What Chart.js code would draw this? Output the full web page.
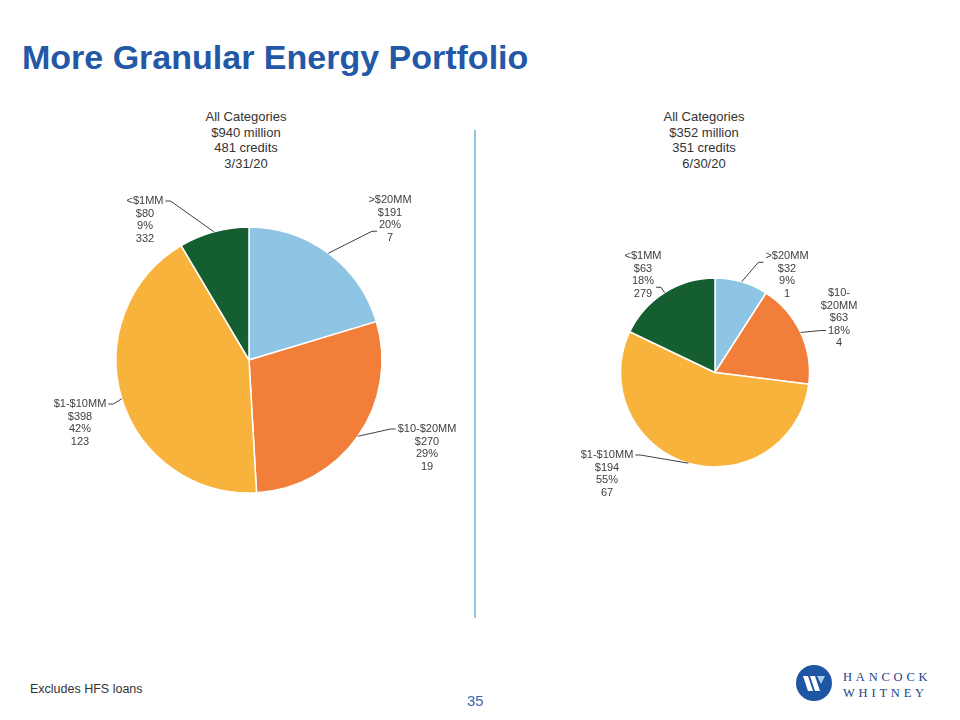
<!DOCTYPE html>
<html>
<head>
<meta charset="utf-8">
<title>More Granular Energy Portfolio</title>
<script src="https://cdn.jsdelivr.net/npm/chart.js@4.4.0/dist/chart.umd.min.js"></script>
<style>
  html, body { margin: 0; padding: 0; background: #fff; }
  body { width: 960px; height: 720px; position: relative; overflow: hidden;
         font-family: "Liberation Sans", Arial, sans-serif; }
  #title { position: absolute; left: 22px; top: 40px; font-size: 34px; line-height: 34px;
           font-weight: bold; color: #2358a6; white-space: nowrap; }
  .head { position: absolute; top: 109px; width: 240px; text-align: center;
          font-size: 13px; line-height: 15.7px; color: #333; }
  .box { position: absolute; }
  #divider { position: absolute; left: 474px; top: 130px; width: 2px; height: 488px; background: #92c5e2; }
  #note { position: absolute; left: 30px; top: 681px; font-size: 12.5px; line-height: 16px; color: #333; }
  #page { position: absolute; left: 467px; top: 692px; font-size: 15px; line-height: 17px; color: #3a62a6; }
  #logo { position: absolute; left: 795px; top: 664px; }
  #logoText { position: absolute; left: 843px; top: 669px; font-family: "Liberation Serif", "DejaVu Serif", serif;
              font-size: 12.5px; line-height: 16px; letter-spacing: 3.8px; color: #1a4486; }
</style>
</head>
<body>
<div id="title">More Granular Energy Portfolio</div>

<div class="head" id="headLeft" style="left:126px"></div>
<div class="head" id="headRight" style="left:584px"></div>

<div class="box" style="left:0px; top:100px; width:498px; height:520px;"><canvas id="marchChart"></canvas></div>
<div class="box" style="left:475px; top:100px; width:480px; height:545px;"><canvas id="juneChart"></canvas></div>

<div id="divider"></div>

<div id="note">Excludes HFS loans</div>
<div id="page">35</div>

<svg id="logo" width="38" height="38" viewBox="0 0 38 38">
  <circle cx="19" cy="19" r="18" fill="#1e56a3"/>
  <polygon points="8,12 13,12 18,27 13,27" fill="#fff"/>
  <polygon points="15,12 20,12 25,27 20,27" fill="#fff"/>
  <polygon points="22,12 30,12 26,20" fill="#a9d2ee"/>
</svg>
<div id="logoText">HANCOCK<br>WHITNEY</div>

<script>
// Kategorien (im Uhrzeigersinn ab 12 Uhr)
const categories = [">$20MM", "$10-$20MM", "$1-$10MM", "<$1MM"];

// 3/31/20
const marchHeader = ["All Categories", "$940 million", "481 credits", "3/31/20"];
const marchBalances = [191, 270, 398, 80];   // $MM
const marchCredits = [7, 19, 123, 332];
const marchNameLines = [[">$20MM"], ["$10-$20MM"], ["$1-$10MM"], ["<$1MM"]];

// 6/30/20
const juneHeader = ["All Categories", "$352 million", "351 credits", "6/30/20"];
const juneBalances = [32, 63, 194, 63];
const juneCredits = [1, 4, 67, 279];
const juneNameLines = [[">$20MM"], ["$10-", "$20MM"], ["$1-$10MM"], ["<$1MM"]];

const sliceColors = ["#8fc5e4", "#f17f3a", "#f8b33c", "#145e30"];

// Label-Platzierung relativ zur Tortenmitte: [dx, dy, Zeile fuer Fuehrungslinie]
const marchSpots = [[141, -160, 2.5], [178, 69, 0], [-169, 44, 0], [-104, -159, 0]];
const juneSpots = [[72, -116.5, 0.5], [124, -79.5, 3], [-108, 82.5, 0], [-72, -116.5, 2.5]];

const LINE_GAP = 12.5;

function buildLabels(nameLines, balances, credits) {
  const total = balances.reduce((a, b) => a + b, 0);
  return balances.map((v, i) => [
    ...nameLines[i],
    "$" + v,
    Math.round(v / total * 100) + "%",
    String(credits[i])
  ]);
}

// Beschriftungen mit Fuehrungslinien
const sliceLabels = {
  id: "sliceLabels",
  afterDatasetsDraw(chart, args, opts) {
    const ctx = chart.ctx;
    const arcs = chart.getDatasetMeta(0).data;
    ctx.save();
    ctx.font = "11px 'Liberation Sans', Arial, sans-serif";
    ctx.fillStyle = "#404040";
    ctx.strokeStyle = "#404040";
    ctx.lineWidth = 1;
    ctx.textAlign = "center";
    ctx.textBaseline = "middle";
    arcs.forEach((arc, i) => {
      const lines = opts.lines[i];
      const spot = opts.spots[i];
      const lx = arc.x + spot[0];
      const ly = arc.y + spot[1];
      lines.forEach((t, k) => ctx.fillText(t, lx, ly + k * LINE_GAP));

      const mid = (arc.startAngle + arc.endAngle) / 2;
      const px = arc.x + Math.cos(mid) * arc.outerRadius;
      const py = arc.y + Math.sin(mid) * arc.outerRadius;
      const a = spot[2];
      const w = Math.max(ctx.measureText(lines[Math.floor(a)]).width,
                         ctx.measureText(lines[Math.ceil(a)]).width);
      const ay = ly + a * LINE_GAP;
      const dir = px < lx ? -1 : 1;
      const ax = lx + dir * (w / 2 + 2);
      const ex = ax + dir * 5;
      ctx.beginPath();
      ctx.moveTo(ax, ay);
      ctx.lineTo(ex, ay);
      ctx.lineTo(px, py);
      ctx.stroke();
    });
    ctx.restore();
  }
};

function renderPie(canvasId, balances, labelLines, spots, padY) {
  const ctx = document.getElementById(canvasId).getContext("2d");
  return new Chart(ctx, {
    type: "pie",
    data: {
      labels: categories,
      datasets: [{
        data: balances,
        backgroundColor: sliceColors,
        borderColor: "#ffffff",
        borderWidth: 1.5
      }]
    },
    options: {
      responsive: true,
      maintainAspectRatio: false,
      animation: false,
      layout: { padding: { top: padY, bottom: padY, left: 100, right: 100 } },
      plugins: {
        legend: { display: false },
        tooltip: { enabled: false },
        sliceLabels: { lines: labelLines, spots: spots }
      }
    },
    plugins: [sliceLabels]
  });
}

document.getElementById("headLeft").innerHTML = marchHeader.join("<br>");
document.getElementById("headRight").innerHTML = juneHeader.join("<br>");

renderPie("marchChart", marchBalances, buildLabels(marchNameLines, marchBalances, marchCredits), marchSpots, 126.25);
renderPie("juneChart", juneBalances, buildLabels(juneNameLines, juneBalances, juneCredits), juneSpots, 177.25);
</script>
</body>
</html>
